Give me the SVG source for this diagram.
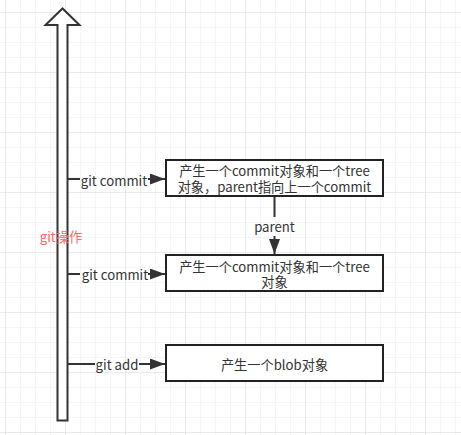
<svg xmlns="http://www.w3.org/2000/svg" width="461" height="435" viewBox="0 0 461 435">
<defs>
<pattern id="grid" x="5" y="12" width="15" height="15" patternUnits="userSpaceOnUse">
<path d="M0 0H15M0 0V15" fill="none" stroke="#ebebeb" stroke-width="1"/>
</pattern>
<pattern id="gridMajor" x="5" y="12" width="60" height="60" patternUnits="userSpaceOnUse">
<path d="M0 0H60M0 0V60" fill="none" stroke="#e0e0e0" stroke-width="1"/>
</pattern>
<marker id="ah" viewBox="0 0 15 11" refX="15" refY="5.5" markerWidth="15" markerHeight="11" markerUnits="userSpaceOnUse" orient="auto">
<path d="M0 0L15 5.5L0 11Z" fill="#333"/>
</marker>
</defs>
<style>
.t{font-family:"Noto Sans CJK SC","Liberation Sans",sans-serif;font-size:13.2px;fill:#333;text-anchor:middle;dominant-baseline:central}
.box{fill:#fff;stroke:#222;stroke-width:2}
.ln{stroke:#333;stroke-width:2;fill:none}
</style>
<rect width="461" height="435" fill="#fff"/>
<rect width="461" height="435" fill="url(#grid)"/>
<rect width="461" height="435" fill="url(#gridMajor)"/>

<g id="git-ops">
<polygon points="57.5,420.5 67.5,420.5 67.5,25 79.5,25 62.5,8.5 45.5,25 57.5,25" fill="#fff" stroke="#333" stroke-width="2"/>
<text x="61" y="236" class="t" style="fill:#ff6666">git操作</text>
</g>

<g id="connectors">
<line x1="68" y1="179" x2="80" y2="179" class="ln"/>
<line x1="148" y1="179" x2="165" y2="179" class="ln" marker-end="url(#ah)"/>
<text x="114" y="180" class="t">git commit</text>
<line x1="68" y1="274" x2="80" y2="274" class="ln"/>
<line x1="148" y1="274" x2="165" y2="274" class="ln" marker-end="url(#ah)"/>
<text x="115" y="274" class="t">git commit</text>
<line x1="68" y1="364" x2="95" y2="364" class="ln"/>
<line x1="139" y1="364" x2="165" y2="364" class="ln" marker-end="url(#ah)"/>
<text x="117" y="364" class="t">git add</text>
<line x1="274.5" y1="197" x2="274.5" y2="217" class="ln"/>
<line x1="274.5" y1="236" x2="274.5" y2="254" class="ln" marker-end="url(#ah)"/>
<text x="274.5" y="226.5" class="t">parent</text>
</g>

<g id="commit2">
<rect x="166" y="160" width="217" height="36" class="box"/>
<text x="274.5" y="170.5" class="t">产生一个commit对象和一个tree</text>
<text x="274.5" y="186.5" class="t">对象，parent指向上一个commit</text>
</g>

<g id="commit1">
<rect x="166" y="255" width="217" height="36" class="box"/>
<text x="274.5" y="266" class="t">产生一个commit对象和一个tree</text>
<text x="274.5" y="281.5" class="t">对象</text>
</g>

<g id="blob">
<rect x="166" y="345" width="217" height="36" class="box"/>
<text x="274.5" y="364" class="t">产生一个blob对象</text>
</g>
</svg>
